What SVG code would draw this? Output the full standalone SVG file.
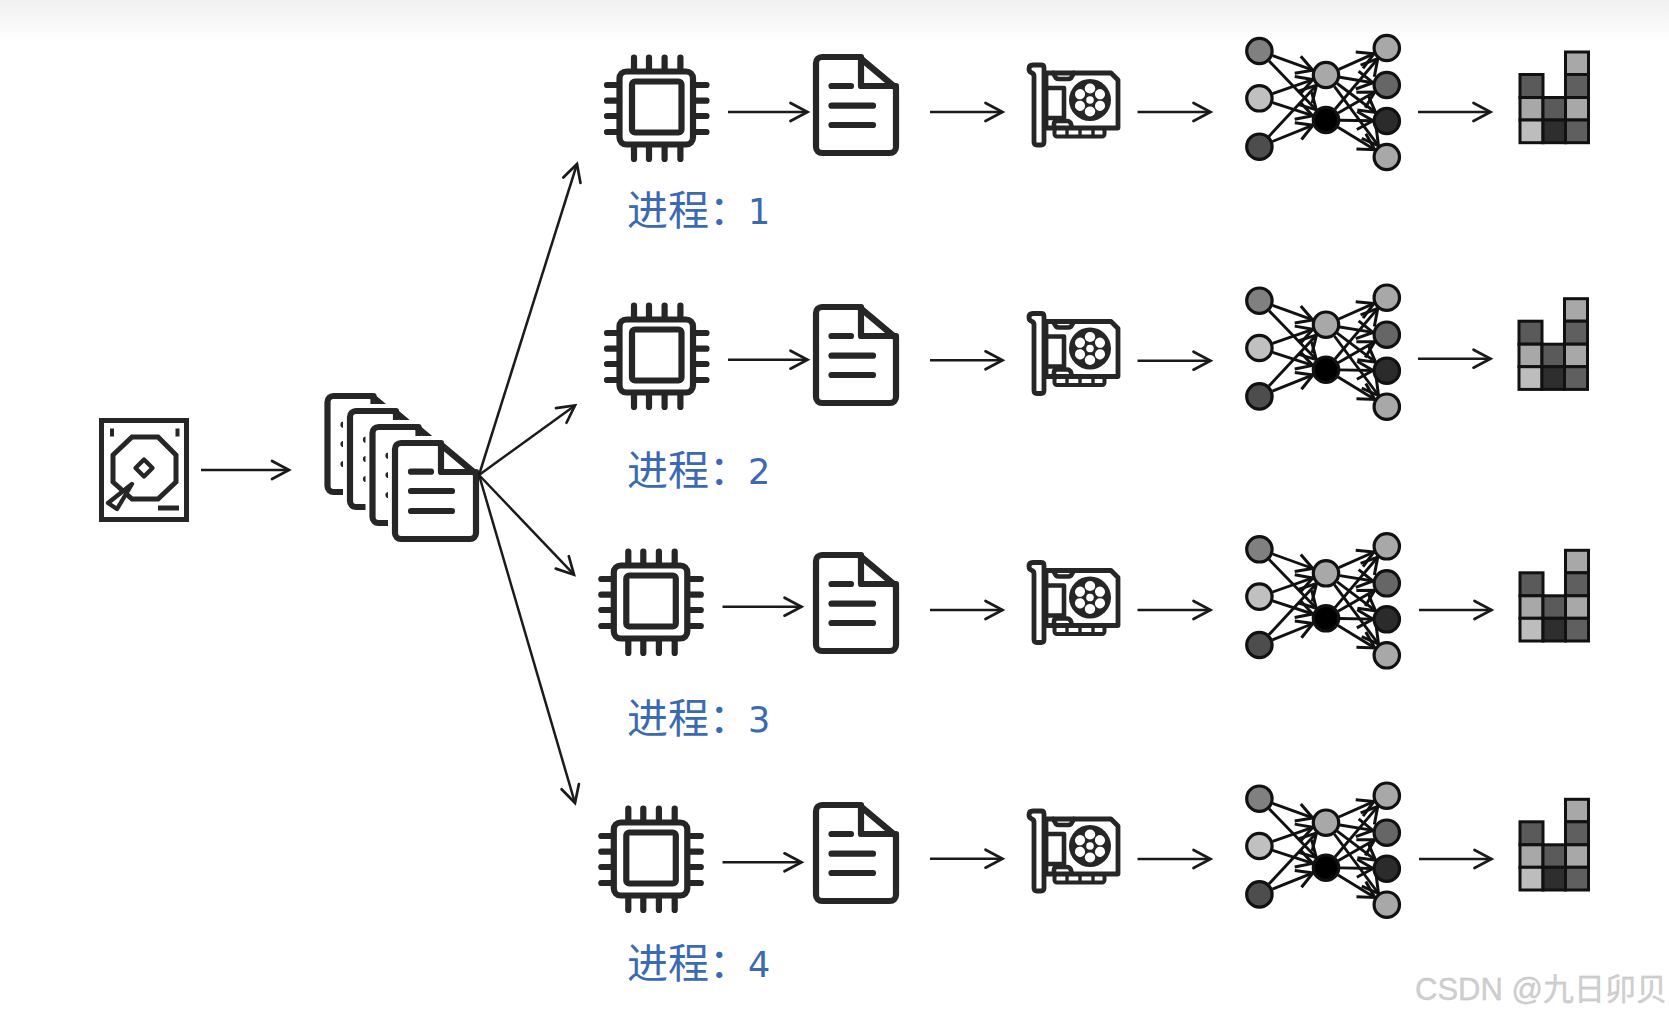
<svg xmlns="http://www.w3.org/2000/svg" width="1669" height="1020" viewBox="0 0 1669 1020">
<style>
.ic{fill:none;stroke:#262626;stroke-width:6.2;stroke-linecap:round;stroke-linejoin:round}
.wf{fill:#fff;stroke:#262626;stroke-width:6.2;stroke-linejoin:round;stroke-linecap:round}
.gp{fill:none;stroke:#262626;stroke-width:4.6;stroke-linejoin:round;stroke-linecap:round}
.arr{fill:none;stroke:#1a1a1a;stroke-width:2.5;marker-end:url(#head)}
.nl{fill:none;stroke:#111;stroke-width:2.9;marker-end:url(#nhead)}
.nc{stroke:#111;stroke-width:3.2}
.bc{stroke:#111;stroke-width:3}
.lbl{font-family:"Noto Sans CJK SC","Liberation Sans",sans-serif;font-size:41px;fill:#3b69b2}
.num{font-family:"DejaVu Sans","Noto Sans",sans-serif;font-size:35px;fill:#3b69b2}
.wm{font-family:"Liberation Sans","Noto Sans CJK SC",sans-serif;font-size:31px;fill:#cfcfcf;stroke:#bdbdbd;stroke-width:.3}
</style>
<defs>
<linearGradient id="topband" x1="0" y1="0" x2="0" y2="1"><stop offset="0" stop-color="#f0f0f0"/><stop offset="1" stop-color="#ffffff"/></linearGradient>
<marker id="head" markerUnits="userSpaceOnUse" markerWidth="30" markerHeight="30" refX="20" refY="12" orient="auto" overflow="visible"><path d="M3,3 L20,12 L3,21" fill="none" stroke="#1a1a1a" stroke-width="2.7" stroke-linejoin="miter" stroke-linecap="round"/></marker>
<marker id="nhead" markerUnits="userSpaceOnUse" markerWidth="24" markerHeight="24" refX="16" refY="9" orient="auto" overflow="visible"><path d="M0,0 L16,9 L0,18" fill="none" stroke="#111" stroke-width="3" stroke-linecap="butt"/></marker>

<g id="cpu">
<rect class="wf" x="619.5" y="71.5" width="73.5" height="73" rx="7"/>
<rect class="wf" x="632" y="81.5" width="49.5" height="51" rx="3"/>
<path class="ic" d="M634,57.5V69M649,57.5V69M664.6,57.5V69M680.4,57.5V69M634,147V159M649,147V159M664.6,147V159M680.4,147V159M607,85H617M607,100.7H617M607,116H617M607,132H617M696,85H706.500M696,100.700H706.500M696,116H706.500M696,132H706.500"/>
</g>
<g id="doc">
<path class="wf" d="M822,57H859L896,88V147a6,6 0 0 1 -6,6H822a6,6 0 0 1 -6,-6V63a6,6 0 0 1 6,-6Z"/>
<path class="ic" d="M861,57V86H896M831.500,86H851M831.500,105.700H873M831.500,125H873"/>
</g>
<g id="sdoc">
<path d="M401,443H438L476,470V533a6,6 0 0 1 -6,6H401a6,6 0 0 1 -6,-6V449a6,6 0 0 1 6,-6Z" fill="#fff" stroke="#fff" stroke-width="14" stroke-linejoin="round"/>
<path class="wf" d="M401,443H439L476,474V533a6,6 0 0 1 -6,6H401a6,6 0 0 1 -6,-6V449a6,6 0 0 1 6,-6Z"/>
<path class="ic" d="M441,443V472H476M411,471.700H431M411,491H452M411,511H452"/>
</g>
<g id="gpu">
<path class="wf" style="stroke-width:4.800" d="M1046,73H1111L1118,80V128H1046Z"/>
<path class="gp" d="M1053,73l3,5q1,1 3,1h9q2,0 3,-1l3,-5M1046,88H1064V118H1046"/>
<path class="gp" fill="#fff" d="M1054,128v-4q0,-3 3,-3h10q3,0 4,3l1,4"/>
<rect class="wf" style="stroke-width:4" x="1054.500" y="128.500" width="50" height="8" rx="2.500"/>
<path class="gp" style="stroke-width:3.400" d="M1067,129V136M1080,129V136M1093,129V136"/>
<path class="wf" style="stroke-width:4.800" d="M1033,65H1041q3,0 3,3V142q0,3 -3,3H1037q-3,0 -3,-3V76q0,-2 -2,-3q-3,-1 -3,-4q0,-4 4,-4Z"/>
<circle cx="1090" cy="100" r="21" fill="#262626"/>
<g fill="#fff">
<ellipse cx="1090" cy="88.500" rx="5.200" ry="5"/>
<ellipse cx="1090" cy="111.500" rx="5.200" ry="5"/>
<ellipse cx="1080" cy="94.200" rx="5.200" ry="5" transform="rotate(-60 1080 94.200)"/>
<ellipse cx="1100" cy="94.200" rx="5.200" ry="5" transform="rotate(60 1100 94.200)"/>
<ellipse cx="1080" cy="105.800" rx="5.200" ry="5" transform="rotate(60 1080 105.800)"/>
<ellipse cx="1100" cy="105.800" rx="5.200" ry="5" transform="rotate(-60 1100 105.800)"/>
<circle cx="1090" cy="100" r="3.800"/>
</g>
</g>
<g id="nn">
<line class="nl" x1="1272.6" y1="55.7" x2="1312.8" y2="70.2"/>
<line class="nl" x1="1269.1" y1="61.1" x2="1316.3" y2="109.9"/>
<line class="nl" x1="1272.6" y1="93.7" x2="1312.8" y2="79.6"/>
<line class="nl" x1="1272.7" y1="102.6" x2="1312.7" y2="115.7"/>
<line class="nl" x1="1268.9" y1="136.4" x2="1316.5" y2="85.3"/>
<line class="nl" x1="1272.4" y1="141.5" x2="1313" y2="125.2"/>
<line class="nl" x1="1338.8" y1="69.3" x2="1374" y2="53.7"/>
<line class="nl" x1="1339.8" y1="77.3" x2="1373" y2="82.7"/>
<line class="nl" x1="1337.2" y1="83.5" x2="1375.6" y2="112.5"/>
<line class="nl" x1="1334.3" y1="86.3" x2="1378.5" y2="145.8"/>
<line class="nl" x1="1335" y1="109.3" x2="1377.8" y2="58.7"/>
<line class="nl" x1="1338.1" y1="113" x2="1374.7" y2="92"/>
<line class="nl" x1="1340" y1="120.2" x2="1373" y2="120.8"/>
<line class="nl" x1="1338" y1="127.3" x2="1374.8" y2="149.7"/>
<circle class="nc" cx="1259.4" cy="51" r="12.7" fill="#808080"/>
<circle class="nc" cx="1259.4" cy="98.3" r="12.7" fill="#c0c0c0"/>
<circle class="nc" cx="1259.4" cy="146.7" r="12.7" fill="#4d4d4d"/>
<circle class="nc" cx="1326" cy="75" r="12.7" fill="#a8a8a8"/>
<circle class="nc" cx="1326" cy="120" r="12.7" fill="#000"/>
<circle class="nc" cx="1386.8" cy="48" r="12.7" fill="#a8a8a8"/>
<circle class="nc" cx="1386.8" cy="85" r="12.7" fill="#666"/>
<circle class="nc" cx="1386.8" cy="121" r="12.7" fill="#2b2b2b"/>
<circle class="nc" cx="1386.8" cy="157" r="12.7" fill="#a8a8a8"/>
</g>
<g id="bars">
<rect class="bc" x="1520" y="74.5" width="23" height="23" fill="#5a5a5a"/>
<rect class="bc" x="1520" y="97.5" width="23" height="22.5" fill="#a8a8a8"/>
<rect class="bc" x="1520" y="120" width="23" height="22.7" fill="#bdbdbd"/>
<rect class="bc" x="1543" y="97.5" width="22.5" height="22.5" fill="#5a5a5a"/>
<rect class="bc" x="1543" y="120" width="22.5" height="22.7" fill="#2e2e2e"/>
<rect class="bc" x="1565.5" y="52" width="23" height="22.5" fill="#a8a8a8"/>
<rect class="bc" x="1565.5" y="74.5" width="23" height="23" fill="#5f5f5f"/>
<rect class="bc" x="1565.5" y="97.5" width="23" height="22.5" fill="#a8a8a8"/>
<rect class="bc" x="1565.5" y="120" width="23" height="22.7" fill="#5f5f5f"/>
</g>
</defs>

<rect width="1669" height="1020" fill="#fff"/>
<rect id="top-band" width="1669" height="42" fill="url(#topband)"/>

<g id="disk">
<rect x="101.5" y="420.5" width="85" height="99" fill="#fff" stroke="#262626" stroke-width="5"/>
<path d="M110,428.500h4v8h-4ZM175.500,428.500h4v8h-4Z" fill="#262626"/>
<path class="ic" style="stroke-width:5;stroke-linecap:butt;stroke-linejoin:miter" d="M132,437H158L176,455V482L158,499H132L113,482V455Z"/>
<path class="ic" style="stroke-width:4.300" d="M144,459.500L152.500,468L144,476.500L135.500,468Z"/>
<path class="wf" style="stroke-width:4.300" d="M132,484L108,503L117,509Z"/>
<path class="ic" style="stroke-width:5;stroke-linecap:butt" d="M158,508H179"/>
</g>

<g id="files">
<use href="#sdoc" x="-67.500" y="-47"/>
<use href="#sdoc" x="-45" y="-32"/>
<use href="#sdoc" x="-22.500" y="-16"/>
<use href="#sdoc"/>
</g>

<g id="row1"><use id="cpu1" href="#cpu"/><use id="doc1" href="#doc"/><use id="gpu1" href="#gpu"/><use id="nn1" href="#nn"/><use id="bars1" href="#bars"/></g>
<g id="row2"><use id="cpu2" href="#cpu" y="248"/><use id="doc2" href="#doc" y="250"/><use id="gpu2" href="#gpu" y="248.500"/><use id="nn2" href="#nn" y="249.700"/><use id="bars2" href="#bars" x="-1" y="246.700"/></g>
<g id="row3"><use id="cpu3" href="#cpu" x="-5.700" y="494"/><use id="doc3" href="#doc" y="498"/><use id="gpu3" href="#gpu" y="497.500"/><use id="nn3" href="#nn" y="498.300"/><use id="bars3" href="#bars" y="498.300"/></g>
<g id="row4"><use id="cpu4" href="#cpu" x="-5.700" y="751"/><use id="doc4" href="#doc" y="748"/><use id="gpu4" href="#gpu" y="746"/><use id="nn4" href="#nn" y="747.700"/><use id="bars4" href="#bars" y="747.300"/></g>

<g id="connectors">
<line class="arr" x1="201" y1="470" x2="289" y2="470"/>
<line class="arr" x1="479" y1="475" x2="577" y2="164"/>
<line class="arr" x1="479" y1="475" x2="575" y2="405.500"/>
<line class="arr" x1="479" y1="475" x2="574" y2="574.700"/>
<line class="arr" x1="479" y1="475" x2="575" y2="803"/>
<line class="arr" x1="728" y1="112" x2="807.500" y2="112"/>
<line class="arr" x1="930" y1="112" x2="1002.500" y2="112"/>
<line class="arr" x1="1137.500" y1="112" x2="1210.500" y2="112"/>
<line class="arr" x1="1418" y1="112" x2="1490.500" y2="112"/>
<line class="arr" x1="728" y1="359.700" x2="807.500" y2="359.700"/>
<line class="arr" x1="930" y1="360.300" x2="1002.500" y2="360.300"/>
<line class="arr" x1="1137.500" y1="360.700" x2="1210.500" y2="360.700"/>
<line class="arr" x1="1418" y1="358.700" x2="1490.500" y2="358.700"/>
<line class="arr" x1="722.500" y1="606.700" x2="801.500" y2="606.700"/>
<line class="arr" x1="930" y1="610" x2="1002.500" y2="610"/>
<line class="arr" x1="1137.500" y1="610" x2="1210.500" y2="610"/>
<line class="arr" x1="1419" y1="610" x2="1491.500" y2="610"/>
<line class="arr" x1="722.500" y1="862.300" x2="801.500" y2="862.300"/>
<line class="arr" x1="930" y1="858.700" x2="1002.500" y2="858.700"/>
<line class="arr" x1="1137.500" y1="859" x2="1210.500" y2="859"/>
<line class="arr" x1="1419" y1="859" x2="1491.500" y2="859"/>
</g>

<g id="labels">
<text class="lbl" x="627" y="225">进程：</text><text class="num" x="748" y="224">1</text>
<text class="lbl" x="627" y="485">进程：</text><text class="num" x="748" y="484">2</text>
<text class="lbl" x="627" y="733">进程：</text><text class="num" x="748" y="732">3</text>
<text class="lbl" x="627" y="978">进程：</text><text class="num" x="748" y="977">4</text>
</g>
<text id="watermark" class="wm" x="1415" y="1000">CSDN @九日卯贝</text>
</svg>
